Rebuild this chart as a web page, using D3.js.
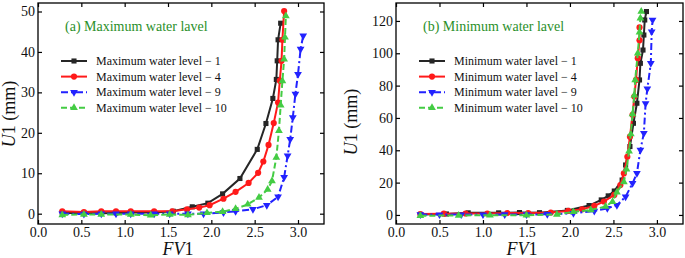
<!DOCTYPE html>
<html>
<head>
<meta charset="utf-8">
<script src="https://cdn.jsdelivr.net/npm/d3@7"></script>
<style>
  body { margin: 0; background: #fff; }
  svg { display: block; }
  svg text { font-family: "Liberation Serif", "Times New Roman", serif; }
</style>
</head>
<body>
<svg id="chart" width="685" height="258"></svg>
<script>
// (a) maximum water level
const fvMax1 = [0.28, 0.53, 0.73, 0.90, 1.07, 1.34, 1.56, 1.78, 1.96, 2.13, 2.33, 2.53, 2.63, 2.71, 2.75, 2.76, 2.77, 2.80];
const uMax1  = [0.2, 0.2, 0.1, 0.2, 0.3, 0.3, 0.6, 1.7, 2.6, 4.9, 8.7, 15.9, 22.3, 28.5, 33.2, 37.8, 43.0, 47.1];
const fvMax4 = [0.28, 0.53, 0.73, 0.90, 1.07, 1.34, 1.55, 1.72, 1.86, 1.98, 2.14, 2.28, 2.43, 2.54, 2.60, 2.66, 2.72, 2.77, 2.79, 2.81, 2.82, 2.84];
const uMax4  = [0.6, 0.4, 0.6, 0.6, 0.6, 0.6, 0.6, 1.1, 1.5, 2.1, 3.7, 5.4, 7.6, 10.1, 12.9, 17.0, 22.4, 27.5, 32.9, 37.8, 43.0, 50.1];
const fvMax9 = [0.28, 0.53, 0.73, 0.90, 1.07, 1.34, 1.52, 1.73, 1.91, 2.14, 2.28, 2.48, 2.64, 2.77, 2.84, 2.88, 2.91, 2.94, 2.97, 3.00, 3.03, 3.06];
const uMax9  = [0.0, -0.1, 0.0, 0.0, 0.0, 0.0, 0.0, 0.0, 0.0, 0.3, 0.6, 1.1, 2.1, 4.2, 9.0, 14.3, 18.4, 23.8, 29.6, 34.5, 40.7, 44.0];
const fvMax10 = [0.28, 0.53, 0.73, 1.07, 1.30, 1.52, 1.73, 1.95, 2.13, 2.28, 2.42, 2.55, 2.65, 2.70, 2.75, 2.78, 2.80, 2.82, 2.84, 2.85, 2.86];
const uMax10  = [-0.3, -0.2, -0.2, -0.2, -0.4, -0.2, -0.3, 0.2, 0.5, 1.2, 2.3, 4.0, 6.0, 8.1, 13.9, 20.5, 26.8, 32.8, 38.2, 43.6, 48.9];

// (b) minimum water level
const fvMin1 = [0.28, 0.58, 0.83, 1.18, 1.42, 1.65, 1.97, 2.22, 2.36, 2.44, 2.51, 2.60, 2.64, 2.69, 2.73, 2.77, 2.80, 2.81, 2.84, 2.85, 2.86, 2.88];
const uMin1  = [0.3, 0.6, 1.3, 1.3, 1.5, 1.4, 2.8, 5.8, 9.3, 11.8, 14.8, 21.6, 30.9, 42.3, 56.7, 69.1, 83.5, 93.8, 102, 111.3, 120.6, 125.8];
const fvMin4 = [0.28, 0.55, 0.80, 1.05, 1.28, 1.52, 1.78, 1.98, 2.14, 2.28, 2.39, 2.51, 2.58, 2.62, 2.66, 2.69, 2.72, 2.74, 2.76, 2.78, 2.80, 2.80];
const uMin4  = [0.6, 0.8, 0.9, 0.9, 1.2, 1.2, 1.5, 2.5, 3.5, 5.6, 8.3, 12.4, 18.5, 25.7, 36.0, 48.4, 61.9, 73.2, 83.5, 97, 108, 116];
const fvMin9 = [0.28, 0.50, 0.75, 1.00, 1.25, 1.50, 1.74, 2.04, 2.28, 2.43, 2.54, 2.64, 2.72, 2.77, 2.81, 2.85, 2.87, 2.89, 2.93, 2.94, 2.95];
const uMin9  = [0.3, 0.2, 0.2, 0.2, 0.3, 0.3, 0.4, 1.0, 2.5, 4.1, 6.0, 11.3, 19.6, 25.8, 40.2, 50.6, 69, 78, 93.8, 113.4, 120.6];
const fvMin10 = [0.28, 0.72, 1.08, 1.50, 1.85, 2.04, 2.24, 2.41, 2.49, 2.54, 2.62, 2.65, 2.68, 2.70, 2.72, 2.74, 2.75, 2.78, 2.80, 2.81, 2.82];
const uMin10  = [-0.5, -0.3, -0.2, -0.2, 0.3, 1.9, 3.1, 5.2, 8.2, 14.1, 20.4, 28.3, 39.4, 50, 62.4, 74, 83.5, 100, 113, 121.7, 125.8];

const xTicks = [0, 0.5, 1.0, 1.5, 2.0, 2.5, 3.0];
const yTicksMax = [0, 10, 20, 30, 40, 50];
const yTicksMin = [0, 20, 40, 60, 80, 100, 120];

const FONT = '"Liberation Serif", "Times New Roman", serif';

const styles = [
  {color: "#262626", dash: null, shape: d3.symbolSquare, size: 26, rot: 0},
  {color: "#ff1a1a", dash: null, shape: d3.symbolCircle, size: 30, rot: 0},
  {color: "#2222ff", dash: "7,3,2,3", shape: d3.symbolTriangle, size: 26, rot: 180},
  {color: "#44cc44", dash: "6,3", shape: d3.symbolTriangle, size: 26, rot: 0}
];

const svg = d3.select("#chart");

function drawPanel(cfg) {
  const {left, right, top, bottom} = cfg;
  const x = d3.scaleLinear().domain([0, 3.3]).range([left, right]);
  const y = d3.scaleLinear().domain(cfg.yDomain).range([bottom, top]);
  const g = svg.append("g");

  // series
  cfg.series.forEach((s, i) => {
    const st = styles[i];
    const pts = s.fv.map((v, j) => [v, s.u[j]]);
    g.append("path")
      .datum(pts)
      .attr("fill", "none")
      .attr("stroke", st.color)
      .attr("stroke-width", 2)
      .attr("stroke-dasharray", st.dash)
      .attr("d", d3.line().x(d => x(d[0])).y(d => y(d[1])));
    g.selectAll(null)
      .data(pts)
      .join("path")
      .attr("fill", st.color)
      .attr("transform", d => `translate(${x(d[0])},${y(d[1])}) rotate(${st.rot})`)
      .attr("d", d3.symbol(st.shape, st.size));
  });

  // axes, ticks pointing inward
  const fmtX = d3.format(".1f");
  g.append("g").attr("transform", `translate(0,${bottom})`)
    .call(d3.axisBottom(x).tickValues(xTicks).tickSize(-4).tickPadding(3).tickFormat(fmtX));
  g.append("g").attr("transform", `translate(0,${top})`)
    .call(d3.axisTop(x).tickValues(xTicks).tickSize(-4).tickFormat(""));
  g.append("g").attr("transform", `translate(${left},0)`)
    .call(d3.axisLeft(y).tickValues(cfg.yTicks).tickSize(-4).tickPadding(3));
  g.append("g").attr("transform", `translate(${right},0)`)
    .call(d3.axisRight(y).tickValues(cfg.yTicks).tickSize(-4).tickFormat(""));
  g.selectAll("g").attr("font-family", FONT);
  g.selectAll(".domain").remove();
  g.selectAll(".tick line").attr("stroke", "#000").attr("stroke-width", 1.2);
  g.selectAll(".tick text").attr("font-family", FONT).attr("font-size", 14).attr("fill", "#111");

  g.append("rect")
    .attr("x", left).attr("y", top)
    .attr("width", right - left).attr("height", bottom - top)
    .attr("fill", "none").attr("stroke", "#000").attr("stroke-width", 1.3);

  // panel title
  g.append("text")
    .attr("x", left + 27).attr("y", 31)
    .attr("font-family", FONT)
    .attr("font-size", 14).attr("fill", "#2a8f2a")
    .text(cfg.title);

  // legend
  const lg = g.append("g").attr("transform", `translate(${left + 23},${61})`);
  cfg.series.forEach((s, i) => {
    const st = styles[i];
    const row = lg.append("g").attr("transform", `translate(0,${i * 15.6})`);
    row.append("line").attr("x1", 0).attr("x2", 26)
      .attr("stroke", st.color).attr("stroke-width", 2).attr("stroke-dasharray", st.dash);
    row.append("path").attr("fill", st.color)
      .attr("transform", `translate(13,0) rotate(${st.rot})`)
      .attr("d", d3.symbol(st.shape, st.size));
    row.append("text").attr("x", 35).attr("y", 4)
      .attr("font-family", FONT)
      .attr("font-size", 12).attr("fill", "#111")
      .text(s.name);
  });

  // axis titles
  const xt = g.append("text").attr("x", cfg.xLabelX).attr("y", 255)
    .attr("font-family", FONT)
    .attr("text-anchor", "middle").attr("font-size", 18).attr("fill", "#111");
  xt.append("tspan").attr("font-style", "italic").text("FV");
  xt.append("tspan").text("1");

  const yt = g.append("text")
    .attr("transform", `translate(${cfg.yLabelX},${cfg.yLabelY}) rotate(-90)`)
    .attr("font-family", FONT)
    .attr("text-anchor", "middle").attr("font-size", 18).attr("fill", "#111");
  yt.append("tspan").attr("font-style", "italic").text("U");
  yt.append("tspan").text("1 (mm)");
}

drawPanel({
  left: 38, right: 324, top: 3, bottom: 224,
  yDomain: [-2.55, 52.1], yTicks: yTicksMax,
  title: "(a) Maximum water lavel",
  xLabelX: 178, yLabelX: 15, yLabelY: 114,
  series: [
    {name: "Maximum water level \u2212 1", fv: fvMax1, u: uMax1},
    {name: "Maximum water level \u2212 4", fv: fvMax4, u: uMax4},
    {name: "Maximum water level \u2212 9", fv: fvMax9, u: uMax9},
    {name: "Maximum water level \u2212 10", fv: fvMax10, u: uMax10}
  ]
});

drawPanel({
  left: 396, right: 683, top: 3, bottom: 224,
  yDomain: [-5.6, 131.1], yTicks: yTicksMin,
  title: "(b) Minimum water lavel",
  xLabelX: 522, yLabelX: 357, yLabelY: 122,
  series: [
    {name: "Minimum water lavel \u2212 1", fv: fvMin1, u: uMin1},
    {name: "Minimum water lavel \u2212 4", fv: fvMin4, u: uMin4},
    {name: "Minimum water lavel \u2212 9", fv: fvMin9, u: uMin9},
    {name: "Minimum water lavel \u2212 10", fv: fvMin10, u: uMin10}
  ]
});
</script>
</body>
</html>
